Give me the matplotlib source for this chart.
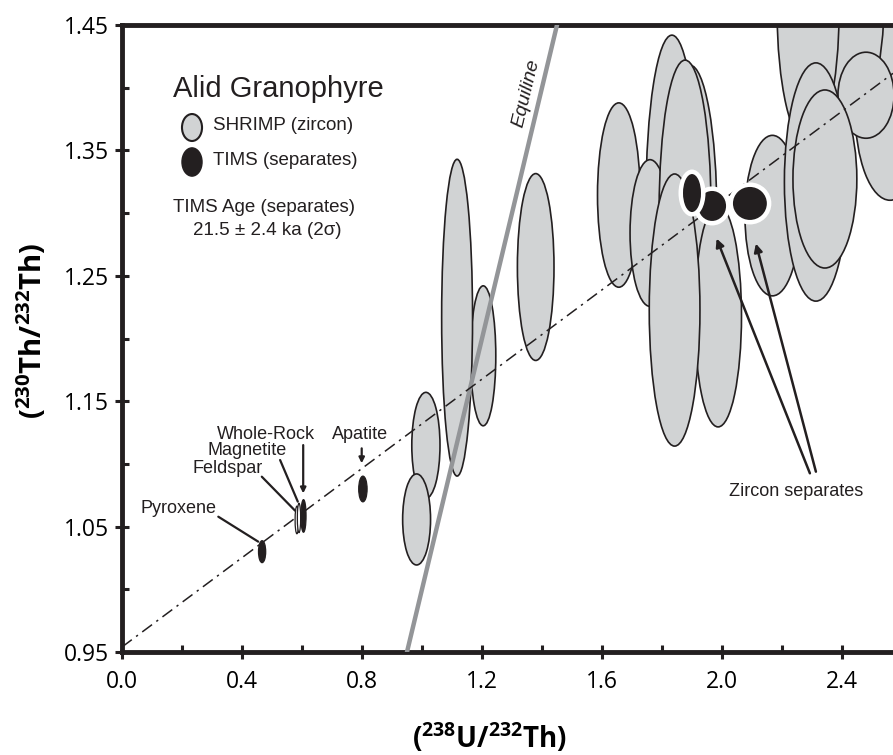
import numpy as np
import matplotlib.pyplot as plt
from matplotlib.patches import Ellipse
from matplotlib.ticker import MultipleLocator

plt.rcParams['font.family'] = ['Liberation Sans', 'DejaVu Sans']
plt.rcParams['mathtext.fontset'] = 'custom'
plt.rcParams['mathtext.rm'] = 'Open Sans'
plt.rcParams['mathtext.bf'] = 'Open Sans:bold'

# SHRIMP zircon spots: centre (238U/232Th, 230Th/232Th) and 2-sigma ellipse size
shrimp_x = [1.013, 0.982, 1.204, 1.117, 1.379,
            1.656, 1.833, 1.760, 1.893, 1.877, 1.987, 1.842,
            2.560, 2.427, 2.287, 2.480, 2.168, 2.313, 2.343]
shrimp_y = [1.1148, 1.0557, 1.1862, 1.2166, 1.2570,
            1.3144, 1.3104, 1.2841, 1.2985, 1.3025, 1.2180, 1.2227,
            1.3820, 1.4700, 1.4620, 1.3940, 1.2980, 1.3248, 1.3272]
shrimp_w = [0.094, 0.093, 0.084, 0.103, 0.122,
            0.142, 0.173, 0.133, 0.180, 0.173, 0.156, 0.169,
            0.233, 0.227, 0.207, 0.187, 0.183, 0.210, 0.213]
shrimp_h = [0.0845, 0.0726, 0.1116, 0.2526, 0.1490,
            0.1470, 0.2630, 0.1170, 0.2390, 0.2390, 0.1770, 0.2170,
            0.1435, 0.1910, 0.2150, 0.0686, 0.1280, 0.1900, 0.1420]

# TIMS zircon separates
tims_x = [1.967, 1.900, 2.093]
tims_y = [1.3057, 1.3160, 1.3077]
tims_w = [0.093, 0.060, 0.113]
tims_h = [0.0239, 0.0303, 0.0263]

# TIMS mineral separates / whole rock
mineral_names = ['Pyroxene', 'Feldspar', 'Magnetite', 'Whole-Rock', 'Apatite']
mineral_x = [0.467, 0.583, 0.590, 0.605, 0.803]
mineral_y = [1.030, 1.0553, 1.0569, 1.0585, 1.080]
mineral_w = [0.024, 0.012, 0.011, 0.017, 0.028]
mineral_h = [0.0175, 0.022, 0.0234, 0.026, 0.0205]
mineral_filled = [True, False, False, True, True]

# isochron through the separates
iso_intercept = 0.954
iso_slope = 0.178

gray = '#d1d3d4'
black = '#231f20'

fig = plt.figure(figsize=(8.93, 7.55), dpi=100)
ax = fig.add_axes([122 / 893, 103 / 755, 771 / 893, 627 / 755])
ax.set_xlim(0, 2.57)
ax.set_ylim(0.95, 1.45)

# SHRIMP ellipses
for x, y, w, h in zip(shrimp_x, shrimp_y, shrimp_w, shrimp_h):
    ax.add_patch(Ellipse((x, y), w, h, fc=gray, ec=black, lw=1.2, zorder=2))

# equiline and isochron
xx = np.array([0.0, 2.57])
ax.plot(xx, xx, color='#939598', lw=3.2, zorder=3)
ax.plot(xx, iso_intercept + iso_slope * xx, color=black, lw=1.1,
        linestyle=(0, (8, 3.5, 1.5, 3.5)), zorder=3)
ax.text(1.347, 1.3954, 'Equiline', rotation=76.5, ha='center', va='center',
        fontsize=14, style='italic', color=black, zorder=3)

# TIMS zircon separates with white halo
for x, y, w, h in zip(tims_x, tims_y, tims_w, tims_h):
    ax.add_patch(Ellipse((x, y), w + 0.03, h + 0.0072, fc='white', ec='none', zorder=4))
    ax.add_patch(Ellipse((x, y), w, h, fc=black, ec='none', zorder=4))

# minerals
for x, y, w, h, f in zip(mineral_x, mineral_y, mineral_w, mineral_h, mineral_filled):
    ax.add_patch(Ellipse((x, y), w, h, fc=black if f else 'white', ec=black,
                         lw=0.9, zorder=5))

# mineral labels
label_pos = {'Pyroxene': (0.187, 1.0648), 'Feldspar': (0.353, 1.0965),
             'Magnetite': (0.4167, 1.111), 'Whole-Rock': (0.479, 1.1236),
             'Apatite': (0.792, 1.1236)}
line_start = {'Pyroxene': (0.321, 1.0579), 'Feldspar': (0.466, 1.0898),
              'Magnetite': (0.527, 1.1031), 'Whole-Rock': (0.604, 1.115),
              'Apatite': (0.799, 1.1124)}
line_offset = {'Pyroxene': (-0.013, 0.008), 'Feldspar': (-0.006, 0.0074),
               'Magnetite': (-0.004, 0.013), 'Whole-Rock': (-0.001, 0.018),
               'Apatite': (-0.004, 0.0205)}
for name, x, y in zip(mineral_names, mineral_x, mineral_y):
    tx, ty = label_pos[name]
    ax.text(tx, ty, name, ha='center', va='center', fontsize=13, color=black, zorder=6)
    dx, dy = line_offset[name]
    head = '-|>' if name in ('Whole-Rock', 'Apatite') else '-'
    ax.annotate('', xy=(x + dx, y + dy), xytext=line_start[name],
                arrowprops=dict(arrowstyle=head, color=black, lw=1.6,
                                mutation_scale=8, shrinkA=0, shrinkB=0), zorder=6)

# zircon separates label
ax.text(2.248, 1.0776, 'Zircon separates', ha='center', va='center',
        fontsize=13, color=black, zorder=6)
zircon_start = [(2.293, 1.0925), (2.313, 1.0938)]
zircon_offset = [(0.015, -0.026), (0.02, -0.032)]
for (sx, sy), (dx, dy), x, y in zip(zircon_start, zircon_offset, tims_x[0::2], tims_y[0::2]):
    ax.annotate('', xy=(x + dx, y + dy), xytext=(sx, sy),
                arrowprops=dict(arrowstyle='-|>', color=black, lw=1.8,
                                mutation_scale=12, shrinkA=0, shrinkB=0), zorder=6)

# legend block
ax.text(0.066, 0.8975, 'Alid Granophyre', transform=ax.transAxes, fontsize=21,
        va='center', color=black)
ax.add_patch(Ellipse((0.0908, 0.8365), 0.026, 0.043, transform=ax.transAxes,
                     fc=gray, ec=black, lw=1.5, zorder=6))
ax.add_patch(Ellipse((0.0908, 0.7815), 0.026, 0.045, transform=ax.transAxes,
                     fc=black, ec=black, lw=1.0, zorder=6))
ax.text(0.118, 0.839, 'SHRIMP (zircon)', transform=ax.transAxes, fontsize=13.5,
        va='center', color=black)
ax.text(0.118, 0.784, 'TIMS (separates)', transform=ax.transAxes, fontsize=13.5,
        va='center', color=black)
ax.text(0.184, 0.7092, 'TIMS Age (separates)', transform=ax.transAxes, fontsize=13.5,
        ha='center', va='center', color=black)
ax.text(0.188, 0.6722, '21.5 ± 2.4 ka (2σ)', transform=ax.transAxes, fontsize=13.5,
        ha='center', va='center', color=black)

# axes styling
for side in ['left', 'bottom', 'top']:
    ax.spines[side].set_linewidth(3.5)
    ax.spines[side].set_color(black)
ax.spines['right'].set_visible(False)

ax.set_xticks(np.arange(0, 2.41, 0.4))
ax.set_xticklabels(['%.1f' % v for v in np.arange(0, 2.41, 0.4)])
ax.set_yticks(np.arange(0.95, 1.451, 0.1))
ax.set_yticklabels(['%.2f' % v for v in np.arange(0.95, 1.451, 0.1)])
ax.xaxis.set_minor_locator(MultipleLocator(0.2))
ax.yaxis.set_minor_locator(MultipleLocator(0.05))
ax.tick_params(which='major', direction='inout', length=10.5, width=2.2,
               color=black, labelsize=16.5, labelfontfamily='Open Sans')
ax.tick_params(axis='x', which='major', pad=8)
ax.tick_params(axis='y', which='major', pad=4)
ax.tick_params(which='minor', direction='in', length=5, width=2.2, color=black)
ax.tick_params(top=False, right=False, which='both')

ax.set_xlabel(r'$\mathbf{(^{238}U/^{232}Th)}$', fontsize=20, va='center')
ax.xaxis.set_label_coords(0.477, -0.136)
ax.set_ylabel(r'$\mathbf{(^{230}Th/^{232}Th)}$', fontsize=21, va='center')
ax.yaxis.set_label_coords(-0.118, 0.513)

fig.savefig('out.png', dpi=100)
